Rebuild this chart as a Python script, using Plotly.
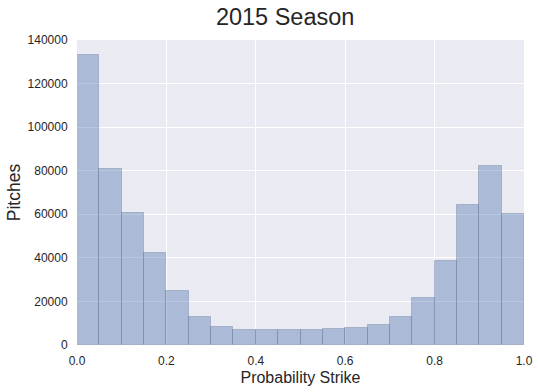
import plotly.graph_objects as go

bin_edges = [i * 0.05 for i in range(21)]
counts = [133000, 80800, 60600, 42200, 24800, 12900, 8300, 6900, 6900, 6900,
          6900, 7300, 7800, 9300, 13000, 21700, 38700, 64400, 82200, 60300]
x_ticks = [0.0, 0.2, 0.4, 0.6, 0.8, 1.0]
y_ticks = [0, 20000, 40000, 60000, 80000, 100000, 120000, 140000]

centers = [(bin_edges[i] + bin_edges[i + 1]) / 2 for i in range(len(counts))]
widths = [bin_edges[i + 1] - bin_edges[i] for i in range(len(counts))]

fig = go.Figure(go.Bar(
    x=centers, y=counts, width=widths,
    marker=dict(color="rgba(76,114,176,0.4)",
                line=dict(color="rgba(105,118,150,0.38)", width=1)),
))

font = "Liberation Sans, Arial, sans-serif"
fig.update_layout(
    width=538, height=392,
    margin=dict(l=77, r=14, t=40, b=47, autoexpand=False),
    paper_bgcolor="white", plot_bgcolor="#EAEAF2",
    bargap=0,
    showlegend=False,
    font=dict(family=font, color="#262626", size=12),
    title=dict(text="2015 Season", x=0.53, xanchor="center", y=0.956, yanchor="middle",
               font=dict(size=23.5, color="#262626", family=font)),
    xaxis=dict(range=[0, 1], tickvals=x_ticks, tickformat=".1f",
               showgrid=True, gridcolor="white", gridwidth=1, zeroline=False,
               ticks="outside", ticklen=5, tickcolor="rgba(0,0,0,0)", showline=False,
               title=dict(text="Probability Strike", font=dict(size=16), standoff=4),
               tickfont=dict(size=12)),
    yaxis=dict(range=[0, 140000], tickvals=y_ticks, tickformat="d",
               showgrid=True, gridcolor="white", gridwidth=1, zeroline=False,
               ticks="outside", ticklen=6, tickcolor="rgba(0,0,0,0)", showline=False,
               title=dict(text="Pitches", font=dict(size=17.5), standoff=2),
               tickfont=dict(size=12)),
)

fig.write_html("out.html", config={"displayModeBar": False},
               post_script="document.body.style.margin='0';")
